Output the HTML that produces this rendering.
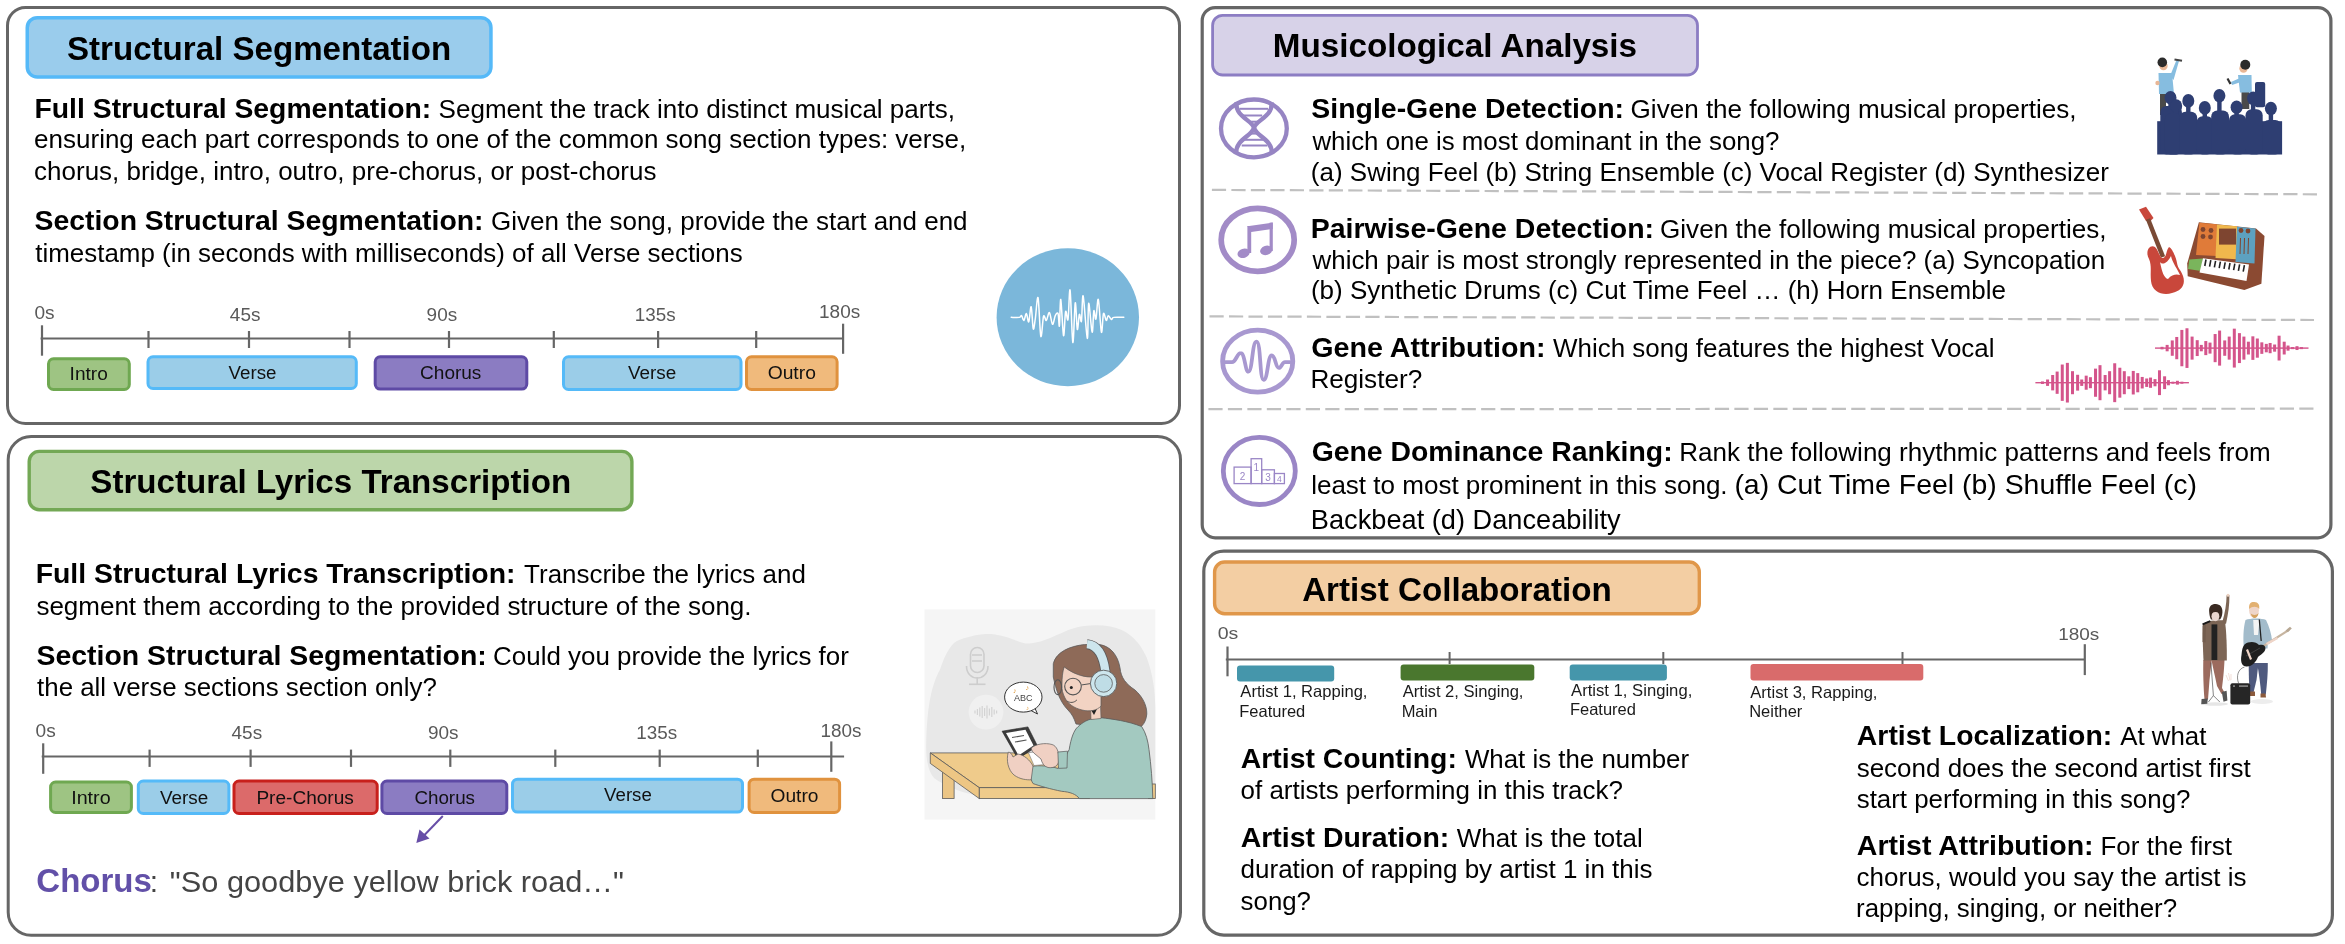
<!DOCTYPE html>
<html><head><meta charset="utf-8"><style>
html,body{margin:0;padding:0;background:#fff;width:2345px;height:944px;overflow:hidden}
svg{display:block;will-change:transform}
text{font-family:"Liberation Sans",sans-serif}
</style></head><body>
<svg width="2345" height="944" viewBox="0 0 2345 944">
<rect width="2345" height="944" fill="#ffffff"/>
<rect x="7.50" y="7.50" width="1172.00" height="416.00" rx="18.00" fill="none" stroke="#666666" stroke-width="3.00"/>
<rect x="8.20" y="436.50" width="1172.30" height="498.70" rx="23.00" fill="none" stroke="#666666" stroke-width="3.00"/>
<rect x="1202.20" y="7.60" width="1128.70" height="530.20" rx="13.00" fill="none" stroke="#666666" stroke-width="3.20"/>
<rect x="1203.80" y="551.20" width="1128.60" height="383.90" rx="20.00" fill="none" stroke="#666666" stroke-width="3.20"/>
<rect x="27.25" y="17.65" width="463.70" height="59.40" rx="10.00" fill="#9ACCEC" stroke="#55B9F8" stroke-width="3.50"/>
<text x="67.01" y="60.40" font-size="33" font-weight="bold" fill="#000" textLength="384.22" lengthAdjust="spacingAndGlyphs">Structural Segmentation</text>
<rect x="29.20" y="451.40" width="602.70" height="58.30" rx="10.00" fill="#BCD6AA" stroke="#73A855" stroke-width="3.40"/>
<text x="90.31" y="493.00" font-size="33" font-weight="bold" fill="#000" textLength="480.84" lengthAdjust="spacingAndGlyphs">Structural Lyrics Transcription</text>
<rect x="1212.60" y="15.40" width="484.90" height="59.60" rx="10.00" fill="#D7D2E8" stroke="#8C7DC3" stroke-width="2.80"/>
<text x="1272.76" y="57.30" font-size="33" font-weight="bold" fill="#000" textLength="364.29" lengthAdjust="spacingAndGlyphs">Musicological Analysis</text>
<rect x="1214.60" y="562.00" width="484.70" height="51.70" rx="10.00" fill="#F3CEA3" stroke="#E0974A" stroke-width="3.40"/>
<text x="1302.16" y="601.10" font-size="33" font-weight="bold" fill="#000" textLength="309.62" lengthAdjust="spacingAndGlyphs">Artist Collaboration</text>
<text x="34.50" y="117.50" font-size="28" font-weight="bold" fill="#000" textLength="396.69" lengthAdjust="spacingAndGlyphs">Full Structural Segmentation:</text>
<text x="438.60" y="117.50" font-size="26" fill="#000" textLength="516.37" lengthAdjust="spacingAndGlyphs">Segment the track into distinct musical parts,</text>
<text x="34.12" y="148.30" font-size="26" fill="#000" textLength="932.02" lengthAdjust="spacingAndGlyphs">ensuring each part corresponds to one of the common song section types: verse,</text>
<text x="34.11" y="179.80" font-size="26" fill="#000" textLength="622.35" lengthAdjust="spacingAndGlyphs">chorus, bridge, intro, outro, pre-chorus, or post-chorus</text>
<text x="34.56" y="230.30" font-size="28" font-weight="bold" fill="#000" textLength="448.97" lengthAdjust="spacingAndGlyphs">Section Structural Segmentation:</text>
<text x="491.12" y="230.30" font-size="26" fill="#000" textLength="476.42" lengthAdjust="spacingAndGlyphs">Given the song, provide the start and end</text>
<text x="35.30" y="262.30" font-size="26" fill="#000" textLength="707.36" lengthAdjust="spacingAndGlyphs">timestamp (in seconds with milliseconds) of all Verse sections</text>
<text x="35.70" y="582.60" font-size="28" font-weight="bold" fill="#000" textLength="479.79" lengthAdjust="spacingAndGlyphs">Full Structural Lyrics Transcription:</text>
<text x="524.12" y="582.60" font-size="26" fill="#000" textLength="281.76" lengthAdjust="spacingAndGlyphs">Transcribe the lyrics and</text>
<text x="36.41" y="615.10" font-size="26" fill="#000" textLength="715.12" lengthAdjust="spacingAndGlyphs">segment them according to the provided structure of the song.</text>
<text x="36.46" y="665.00" font-size="28" font-weight="bold" fill="#000" textLength="450.38" lengthAdjust="spacingAndGlyphs">Section Structural Segmentation:</text>
<text x="493.11" y="665.00" font-size="26" fill="#000" textLength="355.76" lengthAdjust="spacingAndGlyphs">Could you provide the lyrics for</text>
<text x="37.10" y="696.10" font-size="26" fill="#000" textLength="399.68" lengthAdjust="spacingAndGlyphs">the all verse sections section only?</text>
<text x="36.31" y="892.30" font-size="33" font-weight="bold" fill="#6250A8" textLength="115.59" lengthAdjust="spacingAndGlyphs">Chorus</text>
<text x="149.67" y="892.30" font-size="30" fill="#444444">:</text>
<text x="169.85" y="892.30" font-size="30" fill="#444444" textLength="454.16" lengthAdjust="spacingAndGlyphs">&quot;So goodbye yellow brick road…&quot;</text>
<text x="1311.36" y="117.70" font-size="28" font-weight="bold" fill="#000" textLength="312.66" lengthAdjust="spacingAndGlyphs">Single-Gene Detection:</text>
<text x="1630.62" y="118.00" font-size="26" fill="#000" textLength="445.87" lengthAdjust="spacingAndGlyphs">Given the following musical properties,</text>
<text x="1312.39" y="150.00" font-size="26" fill="#000" textLength="467.03" lengthAdjust="spacingAndGlyphs">which one is most dominant in the song?</text>
<text x="1310.87" y="181.30" font-size="26" fill="#000" textLength="798.01" lengthAdjust="spacingAndGlyphs">(a) Swing Feel (b) String Ensemble (c) Vocal Register (d) Synthesizer</text>
<text x="1310.69" y="237.50" font-size="28" font-weight="bold" fill="#000" textLength="343.36" lengthAdjust="spacingAndGlyphs">Pairwise-Gene Detection:</text>
<text x="1660.02" y="237.80" font-size="26" fill="#000" textLength="446.57" lengthAdjust="spacingAndGlyphs">Given the following musical properties,</text>
<text x="1312.49" y="268.50" font-size="26" fill="#000" textLength="792.71" lengthAdjust="spacingAndGlyphs">which pair is most strongly represented in the piece? (a) Syncopation</text>
<text x="1310.96" y="299.40" font-size="26" fill="#000" textLength="694.96" lengthAdjust="spacingAndGlyphs">(b) Synthetic Drums (c) Cut Time Feel … (h) Horn Ensemble</text>
<text x="1311.35" y="357.00" font-size="28" font-weight="bold" fill="#000" textLength="234.20" lengthAdjust="spacingAndGlyphs">Gene Attribution:</text>
<text x="1553.03" y="357.30" font-size="26" fill="#000" textLength="441.53" lengthAdjust="spacingAndGlyphs">Which song features the highest Vocal</text>
<text x="1310.43" y="388.40" font-size="26" fill="#000" textLength="111.74" lengthAdjust="spacingAndGlyphs">Register?</text>
<text x="1311.66" y="460.60" font-size="28" font-weight="bold" fill="#000" textLength="360.95" lengthAdjust="spacingAndGlyphs">Gene Dominance Ranking:</text>
<text x="1679.24" y="460.60" font-size="26" fill="#000" textLength="591.40" lengthAdjust="spacingAndGlyphs">Rank the following rhythmic patterns and feels from</text>
<text x="1311.15" y="494.30" font-size="26" fill="#000" textLength="416.44" lengthAdjust="spacingAndGlyphs">least to most prominent in this song.</text>
<text x="1734.40" y="494.30" font-size="28" fill="#000" textLength="462.60" lengthAdjust="spacingAndGlyphs">(a) Cut Time Feel (b) Shuffle Feel (c)</text>
<text x="1310.85" y="529.00" font-size="28" fill="#000" textLength="309.85" lengthAdjust="spacingAndGlyphs">Backbeat (d) Danceability</text>
<line x1="1211.90" y1="189.90" x2="2317.00" y2="194.30" stroke="#C0C0C0" stroke-width="2.20" stroke-dasharray="14.2 5.28" stroke-linecap="butt"/>
<line x1="1209.50" y1="316.40" x2="2314.00" y2="320.00" stroke="#C0C0C0" stroke-width="2.20" stroke-dasharray="14.2 5.28" stroke-linecap="butt"/>
<line x1="1208.40" y1="409.20" x2="2313.70" y2="408.70" stroke="#C0C0C0" stroke-width="2.20" stroke-dasharray="14.2 5.28" stroke-linecap="butt"/>
<text x="1240.79" y="768.10" font-size="28" font-weight="bold" fill="#000" textLength="216.05" lengthAdjust="spacingAndGlyphs">Artist Counting:</text>
<text x="1464.93" y="768.10" font-size="26" fill="#000" textLength="224.12" lengthAdjust="spacingAndGlyphs">What is the number</text>
<text x="1240.54" y="798.80" font-size="26" fill="#000" textLength="382.34" lengthAdjust="spacingAndGlyphs">of artists performing in this track?</text>
<text x="1240.78" y="846.50" font-size="28" font-weight="bold" fill="#000" textLength="208.48" lengthAdjust="spacingAndGlyphs">Artist Duration:</text>
<text x="1456.83" y="846.50" font-size="26" fill="#000" textLength="185.83" lengthAdjust="spacingAndGlyphs">What is the total</text>
<text x="1240.55" y="878.30" font-size="26" fill="#000" textLength="412.01" lengthAdjust="spacingAndGlyphs">duration of rapping by artist 1 in this</text>
<text x="1240.61" y="910.10" font-size="26" fill="#000" textLength="70.38" lengthAdjust="spacingAndGlyphs">song?</text>
<text x="1856.89" y="744.50" font-size="28" font-weight="bold" fill="#000" textLength="255.30" lengthAdjust="spacingAndGlyphs">Artist Localization:</text>
<text x="2120.13" y="744.50" font-size="26" fill="#000" textLength="86.30" lengthAdjust="spacingAndGlyphs">At what</text>
<text x="1856.71" y="777.10" font-size="26" fill="#000" textLength="393.98" lengthAdjust="spacingAndGlyphs">second does the second artist first</text>
<text x="1856.71" y="807.90" font-size="26" fill="#000" textLength="333.75" lengthAdjust="spacingAndGlyphs">start performing in this song?</text>
<text x="1856.88" y="855.00" font-size="28" font-weight="bold" fill="#000" textLength="236.71" lengthAdjust="spacingAndGlyphs">Artist Attribution:</text>
<text x="2100.44" y="855.00" font-size="26" fill="#000" textLength="131.67" lengthAdjust="spacingAndGlyphs">For the first</text>
<text x="1856.61" y="886.00" font-size="26" fill="#000" textLength="389.86" lengthAdjust="spacingAndGlyphs">chorus, would you say the artist is</text>
<text x="1856.05" y="917.40" font-size="26" fill="#000" textLength="321.06" lengthAdjust="spacingAndGlyphs">rapping, singing, or neither?</text>
<line x1="40.60" y1="338.50" x2="844.00" y2="338.50" stroke="#666666" stroke-width="2.20"/>
<line x1="42.00" y1="325.30" x2="42.00" y2="355.70" stroke="#666666" stroke-width="2.20"/>
<line x1="843.10" y1="323.70" x2="843.10" y2="353.80" stroke="#666666" stroke-width="2.20"/>
<line x1="148.50" y1="331.00" x2="148.50" y2="348.00" stroke="#666666" stroke-width="2.20"/>
<line x1="249.00" y1="331.00" x2="249.00" y2="348.00" stroke="#666666" stroke-width="2.20"/>
<line x1="349.50" y1="331.00" x2="349.50" y2="348.00" stroke="#666666" stroke-width="2.20"/>
<line x1="449.00" y1="331.00" x2="449.00" y2="348.00" stroke="#666666" stroke-width="2.20"/>
<line x1="553.80" y1="331.00" x2="553.80" y2="348.00" stroke="#666666" stroke-width="2.20"/>
<line x1="658.10" y1="331.00" x2="658.10" y2="348.00" stroke="#666666" stroke-width="2.20"/>
<line x1="756.20" y1="331.00" x2="756.20" y2="348.00" stroke="#666666" stroke-width="2.20"/>
<text x="34.53" y="319.30" font-size="18" fill="#595959" textLength="20.15" lengthAdjust="spacingAndGlyphs">0s</text>
<text x="229.86" y="321.00" font-size="18" fill="#595959" textLength="30.63" lengthAdjust="spacingAndGlyphs">45s</text>
<text x="426.63" y="321.00" font-size="18" fill="#595959" textLength="30.56" lengthAdjust="spacingAndGlyphs">90s</text>
<text x="634.75" y="320.80" font-size="18" fill="#595959" textLength="40.85" lengthAdjust="spacingAndGlyphs">135s</text>
<text x="819.04" y="318.40" font-size="18" fill="#595959" textLength="41.16" lengthAdjust="spacingAndGlyphs">180s</text>
<rect x="48.50" y="358.80" width="80.80" height="30.70" rx="5.00" fill="#9EC483" stroke="#6FA851" stroke-width="3.00"/>
<rect x="148.00" y="356.80" width="208.30" height="31.70" rx="5.00" fill="#9BCDE8" stroke="#55BAF8" stroke-width="3.00"/>
<rect x="375.20" y="356.80" width="151.60" height="32.30" rx="5.00" fill="#8B7CC2" stroke="#5E4AA5" stroke-width="3.00"/>
<rect x="563.50" y="356.80" width="177.50" height="32.70" rx="5.00" fill="#9BCDE8" stroke="#55BAF8" stroke-width="3.00"/>
<rect x="746.50" y="356.80" width="90.60" height="32.70" rx="5.00" fill="#F0BA7C" stroke="#E0923E" stroke-width="3.00"/>
<text x="69.64" y="380.20" font-size="18" fill="#111111" textLength="38.14" lengthAdjust="spacingAndGlyphs">Intro</text>
<text x="228.60" y="379.30" font-size="18" fill="#111111" textLength="47.91" lengthAdjust="spacingAndGlyphs">Verse</text>
<text x="420.10" y="379.30" font-size="18" fill="#111111" textLength="61.29" lengthAdjust="spacingAndGlyphs">Chorus</text>
<text x="628.00" y="379.20" font-size="18" fill="#111111" textLength="48.32" lengthAdjust="spacingAndGlyphs">Verse</text>
<text x="767.65" y="379.20" font-size="18" fill="#111111" textLength="48.24" lengthAdjust="spacingAndGlyphs">Outro</text>
<line x1="41.70" y1="756.50" x2="844.10" y2="756.50" stroke="#666666" stroke-width="2.20"/>
<line x1="43.20" y1="743.30" x2="43.20" y2="773.80" stroke="#666666" stroke-width="2.20"/>
<line x1="831.30" y1="741.40" x2="831.30" y2="771.80" stroke="#666666" stroke-width="2.20"/>
<line x1="149.60" y1="749.60" x2="149.60" y2="766.90" stroke="#666666" stroke-width="2.20"/>
<line x1="250.60" y1="749.60" x2="250.60" y2="766.90" stroke="#666666" stroke-width="2.20"/>
<line x1="351.00" y1="749.60" x2="351.00" y2="766.90" stroke="#666666" stroke-width="2.20"/>
<line x1="450.30" y1="749.60" x2="450.30" y2="766.90" stroke="#666666" stroke-width="2.20"/>
<line x1="555.30" y1="749.60" x2="555.30" y2="766.90" stroke="#666666" stroke-width="2.20"/>
<line x1="659.70" y1="749.60" x2="659.70" y2="766.90" stroke="#666666" stroke-width="2.20"/>
<line x1="757.80" y1="749.60" x2="757.80" y2="766.90" stroke="#666666" stroke-width="2.20"/>
<text x="35.63" y="736.50" font-size="18" fill="#595959" textLength="20.15" lengthAdjust="spacingAndGlyphs">0s</text>
<text x="231.56" y="739.00" font-size="18" fill="#595959" textLength="30.63" lengthAdjust="spacingAndGlyphs">45s</text>
<text x="428.03" y="739.00" font-size="18" fill="#595959" textLength="30.56" lengthAdjust="spacingAndGlyphs">90s</text>
<text x="636.24" y="739.00" font-size="18" fill="#595959" textLength="40.95" lengthAdjust="spacingAndGlyphs">135s</text>
<text x="820.64" y="736.50" font-size="18" fill="#595959" textLength="40.95" lengthAdjust="spacingAndGlyphs">180s</text>
<rect x="50.60" y="782.10" width="80.80" height="30.40" rx="5.00" fill="#9EC483" stroke="#6FA851" stroke-width="3.00"/>
<rect x="138.30" y="781.10" width="90.60" height="32.40" rx="5.00" fill="#9BCDE8" stroke="#55BAF8" stroke-width="3.00"/>
<rect x="234.00" y="781.10" width="143.20" height="32.40" rx="5.00" fill="#DC6A6A" stroke="#C8201C" stroke-width="3.00"/>
<rect x="381.90" y="781.10" width="124.90" height="32.40" rx="5.00" fill="#8B7CC2" stroke="#5E4AA5" stroke-width="3.00"/>
<rect x="512.50" y="779.20" width="230.00" height="32.90" rx="5.00" fill="#9BCDE8" stroke="#55BAF8" stroke-width="3.00"/>
<rect x="749.10" y="779.20" width="90.50" height="33.30" rx="5.00" fill="#F0BA7C" stroke="#E0923E" stroke-width="3.00"/>
<text x="71.18" y="803.80" font-size="18" fill="#111111" textLength="39.43" lengthAdjust="spacingAndGlyphs">Intro</text>
<text x="160.00" y="803.80" font-size="18" fill="#111111" textLength="48.32" lengthAdjust="spacingAndGlyphs">Verse</text>
<text x="256.42" y="803.80" font-size="18" fill="#111111" textLength="97.39" lengthAdjust="spacingAndGlyphs">Pre-Chorus</text>
<text x="414.41" y="803.80" font-size="18" fill="#111111" textLength="60.57" lengthAdjust="spacingAndGlyphs">Chorus</text>
<text x="604.10" y="801.20" font-size="18" fill="#111111" textLength="47.71" lengthAdjust="spacingAndGlyphs">Verse</text>
<text x="770.56" y="802.20" font-size="18" fill="#111111" textLength="47.93" lengthAdjust="spacingAndGlyphs">Outro</text>
<line x1="442.80" y1="816.00" x2="424.00" y2="835.50" stroke="#674EA7" stroke-width="2.00"/>
<polygon points="416.3,843 419.5,829.5 429.5,838.5" fill="#674EA7"/>
<line x1="1225.80" y1="659.50" x2="2084.80" y2="659.50" stroke="#666666" stroke-width="2.20"/>
<line x1="1227.50" y1="646.50" x2="1227.50" y2="676.30" stroke="#666666" stroke-width="2.20"/>
<line x1="2084.80" y1="644.20" x2="2084.80" y2="675.10" stroke="#666666" stroke-width="2.20"/>
<line x1="1449.60" y1="652.00" x2="1449.60" y2="664.00" stroke="#666666" stroke-width="2.00"/>
<line x1="1663.30" y1="652.00" x2="1663.30" y2="664.00" stroke="#666666" stroke-width="2.00"/>
<line x1="1902.50" y1="652.00" x2="1902.50" y2="664.00" stroke="#666666" stroke-width="2.00"/>
<text x="1217.78" y="639.30" font-size="17" fill="#595959" textLength="20.63" lengthAdjust="spacingAndGlyphs">0s</text>
<text x="2058.23" y="639.60" font-size="17" fill="#595959" textLength="41.12" lengthAdjust="spacingAndGlyphs">180s</text>
<rect x="1237.00" y="665.60" width="97.20" height="16.00" rx="3" fill="#4596AB"/>
<rect x="1400.60" y="664.40" width="133.70" height="16.20" rx="3" fill="#4A772E"/>
<rect x="1569.70" y="664.40" width="97.20" height="16.20" rx="3" fill="#4596AB"/>
<rect x="1750.50" y="664.10" width="172.80" height="16.40" rx="3" fill="#D96B6B"/>
<text x="1240.35" y="696.60" font-size="16.5" fill="#1a1a1a" textLength="127.12" lengthAdjust="spacingAndGlyphs">Artist 1, Rapping,</text>
<text x="1239.23" y="716.50" font-size="16.5" fill="#1a1a1a">Featured</text>
<text x="1402.75" y="696.60" font-size="16.5" fill="#1a1a1a" textLength="120.71" lengthAdjust="spacingAndGlyphs">Artist 2, Singing,</text>
<text x="1401.63" y="716.50" font-size="16.5" fill="#1a1a1a">Main</text>
<text x="1571.05" y="695.90" font-size="16.5" fill="#1a1a1a" textLength="121.22" lengthAdjust="spacingAndGlyphs">Artist 1, Singing,</text>
<text x="1569.93" y="715.30" font-size="16.5" fill="#1a1a1a">Featured</text>
<text x="1750.25" y="697.70" font-size="16.5" fill="#1a1a1a" textLength="127.22" lengthAdjust="spacingAndGlyphs">Artist 3, Rapping,</text>
<text x="1749.13" y="717.40" font-size="16.5" fill="#1a1a1a">Neither</text>
<ellipse cx="1067.8" cy="317.2" rx="71.2" ry="69" fill="#7BB7DA"/>
<path d="M1011.20,317.37 C1012.58,317.37 1017.74,317.66 1019.46,317.37 C1021.18,317.08 1020.78,315.13 1021.53,315.65 C1022.28,316.16 1023.14,320.81 1023.94,320.47 C1024.74,320.12 1025.55,313.35 1026.35,313.58 C1027.15,313.81 1027.96,322.99 1028.76,321.85 C1029.56,320.70 1030.42,305.55 1031.17,306.69 C1031.92,307.84 1032.55,326.72 1033.24,328.73 C1033.93,330.74 1034.50,323.91 1035.30,318.75 C1036.11,313.58 1037.14,294.81 1038.06,297.74 C1038.98,300.67 1039.89,333.21 1040.81,336.31 C1041.73,339.41 1042.65,318.98 1043.57,316.34 C1044.49,313.70 1045.35,321.10 1046.32,320.47 C1047.30,319.84 1048.39,311.92 1049.42,312.55 C1050.45,313.18 1051.54,323.74 1052.52,324.26 C1053.50,324.77 1054.36,317.43 1055.28,315.65 C1056.19,313.87 1057.34,311.86 1058.03,313.58 C1058.72,315.30 1058.95,328.33 1059.41,325.98 C1059.87,323.62 1060.10,297.86 1060.79,299.46 C1061.47,301.07 1062.74,333.61 1063.54,335.62 C1064.34,337.63 1064.86,314.21 1065.61,311.52 C1066.35,308.82 1067.27,322.99 1068.02,319.44 C1068.76,315.88 1069.28,286.32 1070.08,290.17 C1070.89,294.01 1071.98,340.38 1072.84,342.51 C1073.70,344.63 1074.50,305.09 1075.25,302.91 C1075.99,300.73 1076.63,327.53 1077.31,329.42 C1078.00,331.32 1078.69,315.65 1079.38,314.27 C1080.07,312.89 1080.81,324.20 1081.45,321.16 C1082.08,318.12 1082.19,293.15 1083.17,296.02 C1084.14,298.89 1086.38,337.17 1087.30,338.37 C1088.22,339.58 1087.87,304.28 1088.68,303.25 C1089.48,302.22 1091.26,330.91 1092.12,332.18 C1092.98,333.44 1093.21,313.01 1093.84,310.83 C1094.47,308.65 1095.16,320.98 1095.91,319.09 C1096.66,317.20 1097.40,297.28 1098.32,299.46 C1099.24,301.64 1100.56,329.82 1101.42,332.18 C1102.28,334.53 1102.68,315.53 1103.48,313.58 C1104.29,311.63 1105.44,320.12 1106.24,320.47 C1107.04,320.81 1107.44,315.82 1108.31,315.65 C1109.17,315.48 1110.49,319.15 1111.40,319.44 C1112.32,319.72 1111.75,317.71 1113.82,317.37 C1115.88,317.02 1122.14,317.37 1123.80,317.37" fill="none" stroke="#ffffff" stroke-width="1.5" stroke-linejoin="round" stroke-linecap="round"/>
<ellipse cx="1253.9" cy="128.4" rx="32.9" ry="28.9" fill="none" stroke="#9685C3" stroke-width="4.3"/>
<path d="M1236.2,102.5 C1235.5,117 1252,120 1254.1,127.9 C1256,136 1272.5,139 1271.9,154" fill="none" stroke="#9685C3" stroke-width="4.4"/>
<path d="M1271.8,102.5 C1272.5,117 1256,120 1253.9,127.9 C1252,136 1235.5,139 1236.1,154" fill="none" stroke="#9685C3" stroke-width="4.4"/>
<line x1="1239.3" y1="108.8" x2="1268.0" y2="108.8" stroke="#9685C3" stroke-width="2"/>
<line x1="1241.2" y1="115.5" x2="1262.2" y2="115.5" stroke="#9685C3" stroke-width="2"/>
<line x1="1251.2" y1="121.7" x2="1258.4" y2="121.7" stroke="#9685C3" stroke-width="2"/>
<line x1="1250.8" y1="133.6" x2="1258.4" y2="133.6" stroke="#9685C3" stroke-width="2"/>
<line x1="1242.7" y1="139.8" x2="1263.2" y2="139.8" stroke="#9685C3" stroke-width="2"/>
<line x1="1241.7" y1="145.5" x2="1267.4" y2="145.5" stroke="#9685C3" stroke-width="2"/>
<ellipse cx="1257.7" cy="239.8" rx="36.5" ry="31.5" fill="none" stroke="#A28BC7" stroke-width="5.7"/>
<path d="M1247.4,226.2 L1272.7,222.6 L1272.7,229 L1251.2,232 Z" fill="#A28BC7"/>
<rect x="1247.4" y="226" width="3.8" height="27" fill="#A28BC7"/>
<rect x="1269.6" y="222.6" width="3.2" height="28.5" fill="#A28BC7"/>
<ellipse cx="1243.6" cy="253.3" rx="6.2" ry="4.6" transform="rotate(-18 1243.6 253.3)" fill="#A28BC7"/>
<ellipse cx="1266.2" cy="250.4" rx="6.2" ry="4.6" transform="rotate(-18 1266.2 250.4)" fill="#A28BC7"/>
<ellipse cx="1257.7" cy="361.2" rx="35.1" ry="31" fill="none" stroke="#A898D0" stroke-width="4.8"/>
<path d="M1225,362.2 L1232,362.2 C1236,362.2 1237,353 1240.7,353.1 C1245,353 1245,371.7 1248.4,371.7 C1252.5,371.7 1252,341.7 1256.5,341.7 C1261,341.7 1259.5,379.8 1263.6,379.8 C1268,379.8 1267.5,355.5 1271.7,355.5 C1275.5,355.5 1275.5,367.9 1278.9,367.9 C1281.5,367.9 1282,362.2 1285,362.2 L1290,362.2" fill="none" stroke="#A898D0" stroke-width="3.8" stroke-linecap="round" stroke-linejoin="round"/>
<ellipse cx="1259.3" cy="470.9" rx="36" ry="33.6" fill="none" stroke="#9A86C6" stroke-width="4.8"/>
<g fill="none" stroke="#9A86C6" stroke-width="1.3">
<rect x="1234.1" y="467.1" width="17" height="16.5"/>
<rect x="1251.1" y="458.7" width="10.6" height="24.9"/>
<rect x="1261.7" y="469.8" width="12.7" height="13.8"/>
<rect x="1274.4" y="473.5" width="10" height="10.1"/>
</g>
<g fill="#9A86C6" font-family="Liberation Sans" font-size="9" text-anchor="middle">
<text x="1242.6" y="480.3" font-size="10">2</text><text x="1256.4" y="470.5" font-size="10">1</text><text x="1268" y="481" font-size="10">3</text><text x="1279.4" y="482" font-size="8.5">4</text>
</g>
<g>
<rect x="2160" y="90" width="6" height="25" fill="#4a4a4a"/>
<path d="M2158.5,73 L2172,73 L2174,94 L2159,94 Z" fill="#86BDE0"/>
<path d="M2170,76 L2176.5,60 L2179,61 L2173.5,80 Z" fill="#86BDE0"/>
<circle cx="2157.5" cy="83" r="2.2" fill="#E8B796"/>
<line x1="2174.5" y1="59.5" x2="2182" y2="60.8" stroke="#444" stroke-width="2"/>
<circle cx="2163.5" cy="66" r="4.2" fill="#E8B796"/>
<circle cx="2162.3" cy="62.4" r="4.8" fill="#2B2B2B"/>
<rect x="2241.5" y="91" width="7.8" height="18" fill="#4a4a4a"/>
<path d="M2238,75 L2251.5,75 L2251.8,92.5 L2240,92.5 Z" fill="#86BDE0"/>
<path d="M2240,78 L2231,82 L2232,85 L2241,82 Z" fill="#86BDE0"/>
<line x1="2227.5" y1="78.5" x2="2230.5" y2="84" stroke="#333" stroke-width="2.2"/>
<circle cx="2243.5" cy="68.5" r="4.2" fill="#E8B796"/>
<circle cx="2245.3" cy="64.8" r="5" fill="#2B2B2B"/>
</g>
<g fill="#2E3E72">
<rect x="2157.2" y="121.2" width="124.9" height="33.3"/>
<ellipse cx="2170.5" cy="97.7" rx="6" ry="6.8"/>
<rect x="2168.3" y="100.7" width="4.4" height="7.3"/>
<rect x="2160.3" y="106.0" width="21.6" height="48.5" rx="6"/>
<ellipse cx="2176.2" cy="106.0" rx="6" ry="6.8"/>
<rect x="2174.0" y="109.0" width="4.4" height="6.6"/>
<rect x="2164.8" y="113.6" width="17.8" height="40.9" rx="6"/>
<ellipse cx="2188.3" cy="100.9" rx="6" ry="6.8"/>
<rect x="2186.1" y="103.9" width="4.4" height="9.8"/>
<rect x="2179.4" y="111.7" width="17.8" height="42.8" rx="6"/>
<ellipse cx="2204.8" cy="107.9" rx="6" ry="6.8"/>
<rect x="2202.6" y="110.9" width="4.4" height="7.3"/>
<rect x="2196.6" y="116.2" width="16.5" height="38.4" rx="6"/>
<ellipse cx="2219.4" cy="95.8" rx="6" ry="6.8"/>
<rect x="2217.2" y="98.8" width="4.4" height="13.6"/>
<rect x="2211.2" y="110.4" width="17.8" height="44.1" rx="6"/>
<ellipse cx="2236.6" cy="107.3" rx="6" ry="6.8"/>
<rect x="2234.4" y="110.3" width="4.4" height="6.0"/>
<rect x="2229.0" y="114.3" width="17.2" height="40.3" rx="6"/>
<ellipse cx="2253.1" cy="98.4" rx="6" ry="6.8"/>
<rect x="2250.9" y="101.4" width="4.4" height="9.8"/>
<rect x="2245.5" y="109.2" width="17.2" height="45.4" rx="6"/>
<ellipse cx="2270.9" cy="108.5" rx="6" ry="6.8"/>
<rect x="2268.7" y="111.5" width="4.4" height="10.4"/>
<rect x="2262.6" y="120.0" width="18.7" height="34.6" rx="6"/>
<rect x="2255.0" y="81.9" width="10.2" height="25.4" rx="2"/>
</g>
<path d="M2187.2,263.6 L2198.9,222.2 L2256,228.6 L2264.5,236 L2261.4,283.7 L2244.4,290 L2187.7,276.3 Z" fill="#8B4A32"/>
<path d="M2199.4,222.8 L2216.9,224.2 L2216.9,256.1 L2196,255 Z" fill="#E07B39"/>
<path d="M2216.9,224.6 L2237,226.2 L2236.5,259.3 L2215.5,258 Z" fill="#F0B84D"/>
<rect x="2219" y="228.6" width="17" height="16" fill="#7E4530"/>
<path d="M2237,226.8 L2255.5,228.6 L2254.5,263.6 L2235.5,262 Z" fill="#5DA1C0"/>
<circle cx="2203.0" cy="229.5" r="2.4" fill="#7E4530"/>
<circle cx="2211.0" cy="230.5" r="2.4" fill="#7E4530"/>
<circle cx="2203.0" cy="236.5" r="2.4" fill="#7E4530"/>
<circle cx="2210.5" cy="237.0" r="2.4" fill="#7E4530"/>
<circle cx="2241.0" cy="230.5" r="2.4" fill="#7E4530"/>
<circle cx="2248.0" cy="231.0" r="2.4" fill="#7E4530"/>
<line x1="2240.5" y1="238" x2="2240.0" y2="254" stroke="#7E4530" stroke-width="1"/>
<line x1="2244.5" y1="238" x2="2244.0" y2="254" stroke="#7E4530" stroke-width="1"/>
<line x1="2248.5" y1="238" x2="2248.0" y2="254" stroke="#7E4530" stroke-width="1"/>
<path d="M2189.3,259.5 L2203,258.5 L2201,271 L2188,269 Z" fill="#7AB55C"/>
<path d="M2203,258.3 L2249,264.5 L2246.5,281 L2199.5,272.5 Z" fill="#ffffff"/>
<line x1="2206.0" y1="259.5" x2="2204.8" y2="266.0" stroke="#222" stroke-width="1.6"/>
<line x1="2210.8" y1="260.2" x2="2209.6" y2="266.7" stroke="#222" stroke-width="1.6"/>
<line x1="2215.6" y1="260.9" x2="2214.4" y2="267.4" stroke="#222" stroke-width="1.6"/>
<line x1="2220.4" y1="261.6" x2="2219.2" y2="268.1" stroke="#222" stroke-width="1.6"/>
<line x1="2225.2" y1="262.3" x2="2224.0" y2="268.8" stroke="#222" stroke-width="1.6"/>
<line x1="2230.0" y1="263.0" x2="2228.8" y2="269.5" stroke="#222" stroke-width="1.6"/>
<line x1="2234.8" y1="263.7" x2="2233.6" y2="270.2" stroke="#222" stroke-width="1.6"/>
<line x1="2239.6" y1="264.4" x2="2238.4" y2="270.9" stroke="#222" stroke-width="1.6"/>
<line x1="2244.4" y1="265.1" x2="2243.2" y2="271.6" stroke="#222" stroke-width="1.6"/>
<path d="M2139,209.5 L2146,206.8 L2153.5,218 L2150,221.5 L2146,221 Z" fill="#C9473B"/>
<line x1="2148" y1="219" x2="2163" y2="257" stroke="#7A4A35" stroke-width="4.5"/>
<path d="M2155,247 C2149,244 2145,252 2149,259 C2152,266 2150,272 2151,281 C2152,292 2163,296 2172,293 C2181,291 2186,285 2183,276 C2181,270 2178,269 2177,263 C2176,257 2172,248 2169,247 C2166,250 2167,257 2163,258 C2160,259 2159,251 2155,247 Z" fill="#C9473B"/>
<path d="M2160,262 C2163,266 2168,262 2171,256 C2172,262 2178,270 2180,275 C2177,274 2172,274 2168,279 C2164,278 2162,272 2160,262 Z" fill="#ffffff"/>
<g transform="translate(2035.4,382.7)"><g id="pw" fill="#D4548B"><rect x="0" y="-0.7" width="153.5" height="1.4"/><rect x="5.54" y="-1.28" width="3" height="2.56"/><rect x="10.65" y="-3.20" width="3" height="6.40"/><rect x="15.77" y="-7.68" width="3" height="15.35"/><rect x="20.25" y="-11.13" width="3" height="22.26"/><rect x="25.36" y="-18.17" width="3" height="36.33"/><rect x="30.48" y="-19.83" width="3" height="39.66"/><rect x="35.60" y="-11.51" width="3" height="23.03"/><rect x="40.72" y="-7.93" width="3" height="15.86"/><rect x="44.81" y="-3.20" width="3" height="6.40"/><rect x="49.29" y="-7.04" width="3" height="14.07"/><rect x="53.51" y="-5.50" width="3" height="11.00"/><rect x="58.63" y="-14.07" width="3" height="28.14"/><rect x="63.10" y="-17.53" width="3" height="35.05"/><rect x="68.22" y="-7.68" width="3" height="15.35"/><rect x="72.70" y="-11.51" width="3" height="23.03"/><rect x="77.81" y="-19.44" width="3" height="38.89"/><rect x="82.93" y="-14.97" width="3" height="29.93"/><rect x="87.41" y="-11.51" width="3" height="23.03"/><rect x="91.89" y="-6.40" width="3" height="12.79"/><rect x="96.36" y="-11.77" width="3" height="23.54"/><rect x="100.84" y="-9.59" width="3" height="19.19"/><rect x="105.32" y="-5.76" width="3" height="11.51"/><rect x="109.80" y="-4.22" width="3" height="8.44"/><rect x="113.63" y="-5.12" width="3" height="10.23"/><rect x="118.11" y="-3.58" width="3" height="7.16"/><rect x="122.59" y="-12.41" width="3" height="24.82"/><rect x="127.71" y="-6.40" width="3" height="12.79"/><rect x="131.54" y="-2.56" width="3" height="5.12"/><rect x="136.02" y="-1.02" width="3" height="2.05"/><rect x="140.50" y="-1.92" width="3" height="3.84"/><rect x="144.98" y="-1.02" width="3" height="2.05"/></g></g>
<use href="#pw" transform="translate(2155,348.1)"/>
<rect x="924.5" y="609.4" width="230.8" height="210.2" fill="#F5F5F5"/>
<path d="M972.2,794.3 C960,792 945,786 934,778 C928,771 926,760 926.2,744.4 C927,705 932,684 939.9,669.7 C946,652 952,642 959.8,639.8 C975,634 990,633 997.2,634.9 C1012,637 1020,644 1029.6,643.6 C1050,642 1065,628 1084.3,626.1 C1100,624 1112,626 1121.7,629.9 C1135,636 1142,647 1146.6,657.3 C1153,675 1155,690 1155.3,707.1 L1155.3,794.3 Z" fill="#E8E8E8"/>
<g fill="none" stroke="#CDCDCD" stroke-width="1.6"><rect x="970.5" y="647.5" width="13.5" height="25" rx="6.7"/><path d="M966.5,666 C966.5,682 988,682 988,666"/><line x1="977.2" y1="677" x2="977.2" y2="684"/><line x1="969" y1="684.3" x2="985.5" y2="684.3"/><line x1="972" y1="655" x2="982" y2="655"/><line x1="972" y1="661" x2="982" y2="661"/></g>
<circle cx="986" cy="712.1" r="17.4" fill="#F0F0F0"/>
<g stroke="#D3D3D3" stroke-width="1.2">
<line x1="975.0" y1="710.6" x2="975.0" y2="713.6"/>
<line x1="977.4" y1="709.1" x2="977.4" y2="715.1"/>
<line x1="979.8" y1="707.6" x2="979.8" y2="716.6"/>
<line x1="982.2" y1="706.1" x2="982.2" y2="718.1"/>
<line x1="984.6" y1="708.1" x2="984.6" y2="716.1"/>
<line x1="987.0" y1="705.6" x2="987.0" y2="718.6"/>
<line x1="989.4" y1="708.6" x2="989.4" y2="715.6"/>
<line x1="991.8" y1="707.1" x2="991.8" y2="717.1"/>
<line x1="994.2" y1="709.6" x2="994.2" y2="714.6"/>
<line x1="996.6" y1="710.6" x2="996.6" y2="713.6"/>
</g>
<g stroke="#5A5A5A" stroke-width="0.8">
<rect x="942.6" y="768" width="11.5" height="30.6" fill="#EBC585"/>
<path d="M930.3,752.9 L1090,752.9 L1088,787.7 L979.3,787.7 Z" fill="#EFCB8B"/>
<path d="M930.3,752.9 L979.3,787.7 L979.3,798.6 L930.3,763.4 Z" fill="#EDC684"/>
<rect x="979.3" y="787.7" width="110" height="10.9" fill="#EFCB8B"/>
<rect x="1148.5" y="784" width="6.8" height="14.6" fill="#EFCB8B"/>
</g>
<path d="M1053.3,663.7 C1056,652 1070,646 1084.5,644.6 L1099.7,644.6 C1110,646 1118,655 1120,668 C1121,678 1126,684 1135,690 C1143,697 1147,706 1146.8,714 C1146,724 1140,730 1130,731.5 C1120,733 1108,731 1103.6,726.6 L1076,724 C1074,718 1072,714 1068,710 C1060,702 1056,690 1053.3,677 Z" fill="#8E6A58" stroke="#5A5A5A" stroke-width="0.8"/>
<path d="M1069.2,749.5 C1071,738 1074,730 1078.1,726.6 C1083,722 1088,719.5 1092,719 L1101,717.7 C1112,719 1128,721 1141.7,726.6 C1146,733 1148,741 1149,749.5 C1151,765 1152.5,782 1152.8,798.6 L1079.4,798.6 C1076,794 1070,792 1061.7,791.3 C1050,789 1040,786 1033.1,783.6 C1030,779 1029.5,772 1030.3,766.5 C1040,765 1050,766 1057.9,768.4 C1062,762 1066,756 1069.2,749.5 Z" fill="#A3C9C0" stroke="#5A5A5A" stroke-width="0.8"/>
<path d="M1090.5,705 L1100.5,705 L1101,718.5 L1091,719.5 Z" fill="#F2D3C3" stroke="#5A5A5A" stroke-width="0.6"/>
<path d="M1090.8,709.5 L1097,709 L1094,715 Z" fill="#222"/>
<path d="M1064.2,666.9 C1072,673 1082,677 1090.8,677 L1101,677 L1101,706 C1097,710.5 1090,712 1082,710 C1074,708 1068,704 1065,698 C1063,694 1061.5,690 1062,684 C1062,678 1062.5,672 1064.2,666.9 Z" fill="#F2D3C3" stroke="#5A5A5A" stroke-width="0.7"/>
<circle cx="1073" cy="686.6" r="8.3" fill="none" stroke="#555" stroke-width="1.1"/>
<ellipse cx="1057.8" cy="687.2" rx="3.8" ry="7.4" fill="none" stroke="#555" stroke-width="1.1"/>
<line x1="1081.2" y1="685" x2="1091" y2="683.5" stroke="#555" stroke-width="1"/>
<circle cx="1071.3" cy="687.4" r="1.5" fill="#222"/>
<path d="M1067.3,701.2 C1070,703 1074,703 1076.9,699.9" fill="none" stroke="#444" stroke-width="0.9"/>
<path d="M1087,644.2 C1096,645 1103,652 1105.5,672" fill="none" stroke="#5A5A5A" stroke-width="10"/>
<path d="M1087,644.2 C1096,645 1103,652 1105.5,672" fill="none" stroke="#CDE6ED" stroke-width="8.3"/>
<circle cx="1103.6" cy="683.4" r="13.2" fill="#CDE6ED" stroke="#5A5A5A" stroke-width="0.9"/>
<circle cx="1103.6" cy="683.4" r="8.8" fill="#BFDDE6" stroke="#5A5A5A" stroke-width="0.8"/>
<path d="M1030,710 L1037.5,714 L1034,706" fill="#fff" stroke="#333" stroke-width="1"/>
<ellipse cx="1023.3" cy="697.1" rx="18.7" ry="15" fill="#ffffff" stroke="#333" stroke-width="1"/>
<text x="1023.3" y="700.5" font-family="Liberation Sans" font-size="9" text-anchor="middle" fill="#444">ABC</text>
<text x="1013" y="693" font-family="Liberation Sans" font-size="7" fill="#E09A3A">♪</text><text x="1025.5" y="689.5" font-family="Liberation Sans" font-size="7" fill="#E09A3A">♪</text><text x="1026" y="710" font-family="Liberation Sans" font-size="6" fill="#E09A3A">♪</text>
<path d="M1002.1,731.2 L1027.9,726.9 L1037.5,746 L1017.9,758.9 Z" fill="#3C3C3C" stroke="#222" stroke-width="0.6"/>
<path d="M1006,733 L1025.5,729.8 L1033.5,745.5 L1018.5,755.5 Z" fill="#FFFFFF"/>
<g stroke="#555" stroke-width="1.1"><line x1="1012" y1="737.5" x2="1024" y2="735.5"/><line x1="1015" y1="742" x2="1026.5" y2="740"/></g>
<path d="M1008.3,752.2 C1006,760 1008,770 1014,775 C1020,779.5 1027,780 1031.2,779.8 L1033,766 C1030,760 1024,755 1018,754 L1013,757 C1012,754 1010,752 1008.3,752.2 Z" fill="#F0D0C3" stroke="#5A5A5A" stroke-width="0.7"/>
<path d="M1028.4,752.5 L1040,751.5 L1044.6,764.6 L1034,765.5 Z" fill="#FFFFFF" stroke="#777" stroke-width="0.6"/>
<path d="M1031.2,748 C1036,744 1045,742.5 1052,744.5 C1057,746 1059,752 1058.9,760 C1058.5,766 1054,768.4 1048,767.5 C1044,766.5 1042,763 1041,759 L1035,754 C1033,752.5 1031.5,750.5 1031.2,748 Z" fill="#F0D0C3" stroke="#5A5A5A" stroke-width="0.7"/>
<path d="M1057.9,752 L1067.5,751.2 L1067,768 L1058.5,768.4 Z" fill="#A3C9C0" stroke="#5A5A5A" stroke-width="0.7"/>
<ellipse cx="2215" cy="704" rx="13" ry="1.8" fill="#E6E6E6"/>
<ellipse cx="2262" cy="701.5" rx="11" ry="2.5" fill="#EDEDED"/>
<path d="M2203.3,660 L2211.8,660 L2209.5,680 L2208,699.5 L2204.5,699.5 C2203.5,688 2203,672 2203.3,660 Z" fill="#9C6B5E"/>
<path d="M2211.5,660 L2224.5,660 C2224,672 2223,680 2222,688 L2224.8,693 L2221.5,694 L2217,686 C2215,676 2213,668 2211.5,660 Z" fill="#9C6B5E"/>
<path d="M2201.6,699 L2207.8,698.5 L2207.3,703.8 L2201.2,704.3 Z" fill="#555"/>
<path d="M2221.8,692 L2226.6,690.8 L2227.4,700.5 L2223.5,701.8 Z" fill="#555"/>
<g stroke="#333" stroke-width="0.6" fill="none"><line x1="2210.9" y1="662.5" x2="2213.4" y2="695.6"/><line x1="2213.4" y1="695.6" x2="2208.4" y2="702"/><line x1="2213.4" y1="695.6" x2="2219.8" y2="702"/></g>
<path d="M2205,622.5 C2209,620.5 2219,620 2225,620.5 C2226.5,633 2227,647 2226.8,660.5 L2203.5,660.5 C2203,650 2202.5,638 2202.6,626 Z" fill="#7D6656"/>
<path d="M2202.8,624 L2206,624.5 L2205.5,642.5 L2202.5,642 Z" fill="#735D4E"/>
<rect x="2211.5" y="624.4" width="5.8" height="35.6" fill="#222"/>
<path d="M2222.3,622 C2225,613 2226.5,604 2226.6,595.3 L2229.4,595.1 C2229.6,605 2228.2,614 2226,624 Z" fill="#7D6656"/>
<circle cx="2228" cy="595.2" r="1.5" fill="#EAD0C0"/>
<path d="M2209.2,612 C2208.5,606 2212,603.8 2215.8,604 C2220,604.2 2222.8,607 2222.4,612.5 C2222.2,616 2221,618.5 2220,619.5 L2211,619.5 C2210,617.5 2209.4,615 2209.2,612 Z" fill="#3A2A22"/>
<ellipse cx="2215.4" cy="616.3" rx="3.9" ry="5" fill="#EAD6CF"/>
<path d="M2211.5,611.2 C2213,609 2218,609 2219.8,611.5 L2219.5,613 C2217,611.5 2214,611.5 2211.6,613.2 Z" fill="#3A2A22"/>
<line x1="2202.6" y1="624.4" x2="2210.3" y2="621.2" stroke="#1a1a1a" stroke-width="2"/>
<path d="M2248.8,663 L2258.5,663 L2256.5,680 L2253.5,692.5 L2249.5,692.5 C2249,683 2248.6,672 2248.8,663 Z" fill="#4F5A7E"/>
<path d="M2257,663 L2267.8,663 C2268,673 2267,684 2265.8,694.5 L2261.2,694.5 C2260.5,685 2259,673 2257,663 Z" fill="#4F5A7E"/>
<path d="M2249.5,691.5 L2255,691.5 L2255,696 L2249.5,696 Z" fill="#8B5A3C"/><path d="M2260.5,693.5 L2265.5,693.5 L2266,697.5 L2260.5,697.5 Z" fill="#8B5A3C"/>
<path d="M2245.5,620 C2250,618 2262,618 2266,620 C2269,626 2271.5,634 2272,640 L2268,642 L2267.5,648.5 L2244,648.5 C2243,640 2243.2,628 2245.5,620 Z" fill="#A3BCCB"/>
<path d="M2253.2,620 L2259.5,620 L2258,635 L2254,635 Z" fill="#F4F4F4"/>
<line x1="2259.3" y1="619.5" x2="2261.2" y2="641" stroke="#222" stroke-width="1.3"/>
<ellipse cx="2254" cy="610.5" rx="4.9" ry="7.3" fill="#EFD5C8"/>
<path d="M2249.2,609 C2248.5,603.5 2251,601.8 2254.3,602 C2258.3,602.3 2259.8,604.5 2259.2,609 C2257,606 2252,606 2249.2,609 Z" fill="#E2B070"/>
<path d="M2250.8,613.5 C2252,619.5 2257.5,619.5 2258.6,613 C2257,615.5 2252.5,615.5 2250.8,613.5 Z" fill="#D6A360"/>
<line x1="2262" y1="647" x2="2289" y2="629.8" stroke="#C7B5A0" stroke-width="2.2"/>
<path d="M2285.5,630.5 L2290,626.8 L2291.8,628.6 L2287.8,632.2 Z" fill="#B8A894"/>
<path d="M2244.5,644.5 C2249,641 2256,641.5 2259,645 C2262,644 2266,645 2265.4,649 C2264.5,653 2260,655 2258,657 C2256,662 2252,667 2246,666.5 C2241,666 2240.5,660 2241.5,655 C2242,650 2242.5,647 2244.5,644.5 Z" fill="#1F1F1F"/>
<line x1="2246" y1="656" x2="2260" y2="648" stroke="#555" stroke-width="0.6"/>
<path d="M2266,643 L2277,637 L2278,639 L2267,645 Z" fill="#EFD5C8"/>
<path d="M2246,650 L2250,660 L2252,659 L2248,649 Z" fill="#EFD5C8"/>
<path d="M2238.6,683.3 C2236,676 2238,669 2244.5,667" fill="none" stroke="#444" stroke-width="0.6"/>
<rect x="2230.4" y="683.3" width="19.8" height="21.2" rx="2" fill="#262626"/>
<rect x="2239" y="685.3" width="9" height="1.6" fill="#888"/><rect x="2233" y="685.3" width="2" height="1.6" fill="#888"/>
<path d="M2226,675 L2228.5,681 M2228.5,673 L2230,680.5 M2231,674 L2231,680" stroke="#E8C9C0" stroke-width="0.6"/>
</svg>
</body></html>
